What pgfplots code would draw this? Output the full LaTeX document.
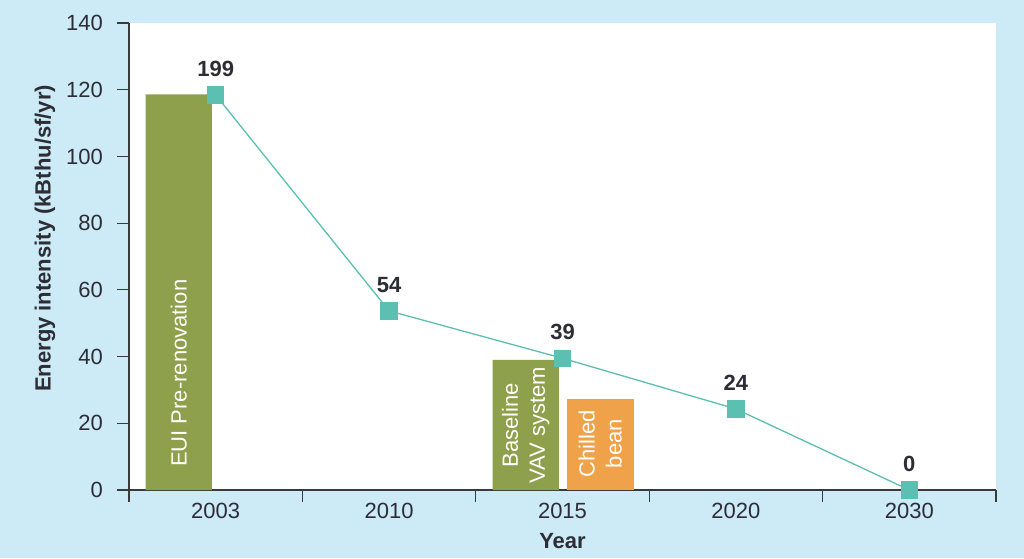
\documentclass[border=0pt]{standalone}
\usepackage{pgfplots}
\pgfplotsset{compat=1.18}
\usepackage{fontspec}
\setmainfont{Liberation Sans}

\definecolor{bgblue}{HTML}{CDEAF7}
\definecolor{barGreen}{HTML}{8FA04D}
\definecolor{barOrange}{HTML}{F0A24A}
\definecolor{lineTeal}{HTML}{5BBFB2}
\definecolor{textdark}{HTML}{2D2D35}
\definecolor{axisgray}{HTML}{3A3A3A}

\newcommand{\chartfont}{\fontsize{22}{27}\selectfont}

\begin{document}
\begin{tikzpicture}
\useasboundingbox (0,0) rectangle (1024pt,558pt);
\fill[bgblue] (0,0) rectangle (1024pt,558pt);
\begin{axis}[
  at={(129pt,68pt)}, anchor=south west,
  scale only axis, width=867pt, height=467pt,
  xmin=-0.5, xmax=4.5, ymin=0, ymax=140,
  clip=false,
  axis background/.style={fill=white},
  axis lines=left,
  axis line style={-, draw=axisgray, line width=1.2pt},
  tick align=outside,
  major tick length=12pt,
  tick style={draw=axisgray, line width=1.2pt},
  ytick={0,20,...,140},
  xtick={-0.5,0.5,...,4.5},
  x tick label as interval,
  xticklabels={2003,2010,2015,2020,2030},
  /pgf/number format/assume math mode=true,
  ticklabel style={font=\chartfont, text=textdark},
  yticklabel style={inner sep=0pt, anchor=east, xshift=-14pt},
  xticklabel style={inner sep=0pt, anchor=north, yshift=-1pt},
  xlabel={Year},
  ylabel={Energy intensity (kBthu/sf/yr)},
  xlabel style={at={(axis description cs:0.5,-0.1092)}, anchor=center, font=\chartfont\bfseries, text=textdark},
  ylabel style={at={(axis description cs:-0.0969,0.5386)}, anchor=center, font=\chartfont\bfseries, text=textdark},
]
% bars
\addplot[ybar, bar width=0.383, fill=barGreen, draw=none]
  coordinates {(-0.213,118.6) (1.788,39.0)};
\addplot[ybar, bar width=0.383, fill=barOrange, draw=none]
  coordinates {(2.218,27.2)};

% EUI line
\addplot[lineTeal, line width=1.3pt, mark=square*, mark size=8pt,
  mark options={fill=lineTeal, draw=lineTeal},
  point meta=explicit symbolic, nodes near coords,
  nodes near coords style={font=\chartfont\bfseries, text=textdark, inner sep=0pt, yshift=17.5pt}]
  coordinates {(0,118.4) [199] (1,53.7) [54] (2,39.5) [39] (3,24.3) [24] (4,0) [0]};

\node[rotate=90, anchor=west, text=white, font=\chartfont, inner sep=0pt]
  at (axis cs:-0.213,6.9) {EUI Pre-renovation};
\node[rotate=90, align=center, text=white, font=\chartfont, inner sep=0pt]
  at (axis cs:1.788,19.5) {Baseline\\VAV system};
\node[rotate=90, align=center, text=white, font=\chartfont, inner sep=0pt]
  at (axis cs:2.218,13.9) {Chilled\\bean};
\end{axis}
\end{tikzpicture}
\end{document}
